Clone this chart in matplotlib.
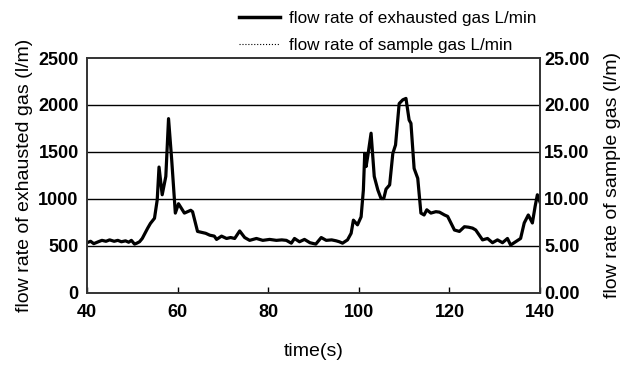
import matplotlib
matplotlib.use("Agg")
import matplotlib.pyplot as plt
from matplotlib.lines import Line2D

plt.rcParams['font.family'] = ['Liberation Sans', 'DejaVu Sans']

time_s = [40, 40.8, 41.5, 42.5, 43.3, 44.2, 45.0, 46.0, 46.8, 47.6, 48.5, 49.2, 49.8, 50.5, 51.0, 51.6,
          52.2, 52.8, 53.4, 54.0, 54.9, 55.5, 55.9, 56.6, 57.4, 58.0, 58.7, 59.5, 60.2, 61.5,
          62.9, 63.3, 64.4, 66.2, 67.1, 68.1, 68.6, 69.7, 70.8, 71.7, 72.6, 73.7, 74.8, 75.9,
          77.4, 78.8, 80.3, 81.8, 83.0, 84.0, 85.1, 85.8, 86.9, 88.0, 89.2, 90.5, 91.7, 92.8,
          94.0, 95.0, 95.7, 96.4, 97.5, 98.3, 98.8, 99.7, 100.5, 101.0, 101.3, 101.6, 102.0,
          102.7, 103.4, 104.2, 104.9, 105.5, 106.0, 106.8, 107.5, 108.1, 108.9, 109.7, 110.4,
          111.1, 111.5, 112.2, 113.0, 113.7, 114.4, 115.0, 115.9, 117.0, 117.8, 118.9, 119.6,
          121.1, 122.2, 123.3, 124.2, 125.1, 125.8, 127.3, 128.4, 129.5, 130.6, 131.7, 132.8,
          133.5, 134.6, 135.7, 136.5, 137.4, 138.3, 138.9, 139.4, 140.0]
exhausted_lpm = [535, 550, 525, 545, 560, 550, 565, 550, 560, 545, 555, 540, 560, 520, 530, 545,
                 580, 635, 690, 740, 795, 990, 1340, 1045, 1240, 1855, 1415, 850, 950, 850,
                 880, 865, 655, 635, 615, 605, 570, 605, 580, 590, 580, 660, 590, 560,
                 580, 560, 570, 560, 565, 560, 530, 580, 545, 570, 535, 520, 590, 560,
                 565, 555, 545, 530, 565, 635, 775, 725, 810, 1095, 1485, 1345, 1465,
                 1700, 1240, 1095, 1005, 1005, 1105, 1150, 1485, 1575, 2015, 2055, 2070,
                 1840, 1805, 1325, 1220, 850, 830, 885, 850, 865, 860, 830, 815,
                 670, 655, 705, 700, 690, 670, 565, 580, 535, 565, 535, 580,
                 510, 545, 580, 745, 830, 745, 920, 1045, 965]
sample_lpm = []

left_ticks = [0, 500, 1000, 1500, 2000, 2500]
right_ticks = [0, 5, 10, 15, 20, 25]
x_ticks = [40, 60, 80, 100, 120, 140]

fig = plt.figure(figsize=(6.28, 3.73), dpi=100)
ax = fig.add_axes([0.1385, 0.2145, 0.7215, 0.63])
ax.plot(time_s, exhausted_lpm, color='black', lw=2.3, solid_joinstyle='round')
ax.set_xlim(40, 140)
ax.set_ylim(0, 2500)
ax.set_xticks(x_ticks)
ax.set_yticks(left_ticks)
for v in left_ticks[1:-1]:
    ax.axhline(v, color='black', lw=1.0, zorder=0)
for s in ax.spines.values():
    s.set_color('#333333')
    s.set_linewidth(1.2)
ax.tick_params(axis='x', direction='in', length=4, width=1, pad=8, labelsize=13)
ax.tick_params(axis='y', direction='in', length=0, pad=6, labelsize=13)
for lab in ax.get_xticklabels() + ax.get_yticklabels():
    lab.set_fontweight('bold')
ax.set_xlabel('time(s)', fontsize=14, labelpad=16)
ax.set_ylabel('flow rate of exhausted gas (l/m)', fontsize=14, labelpad=4)

ax2 = ax.twinx()
ax2.plot(time_s[:len(sample_lpm)], sample_lpm, color='black', lw=1, linestyle=':')
ax2.set_ylim(0, 25)
ax2.set_yticks(right_ticks)
ax2.set_yticklabels([f"{v:.2f}" for v in right_ticks])
ax2.tick_params(axis='y', direction='in', length=0, pad=3, labelsize=13)
for lab in ax2.get_yticklabels():
    lab.set_fontweight('bold')
ax2.set_ylabel('flow rate of sample gas (l/m)', fontsize=14, labelpad=10)
for s in ax2.spines.values():
    s.set_color('#333333')
    s.set_linewidth(1.2)

handles = [Line2D([], [], color='black', lw=2.5),
           Line2D([], [], color='black', lw=0.8, linestyle=':')]
fig.legend(handles, ['flow rate of exhausted gas L/min', 'flow rate of sample gas L/min'],
           loc='upper left', bbox_to_anchor=(0.37, 0.99), frameon=False, fontsize=12.3,
           handlelength=2.4, handletextpad=0.5, labelspacing=0.72, borderaxespad=0.0)

fig.savefig('out.png', dpi=100)
